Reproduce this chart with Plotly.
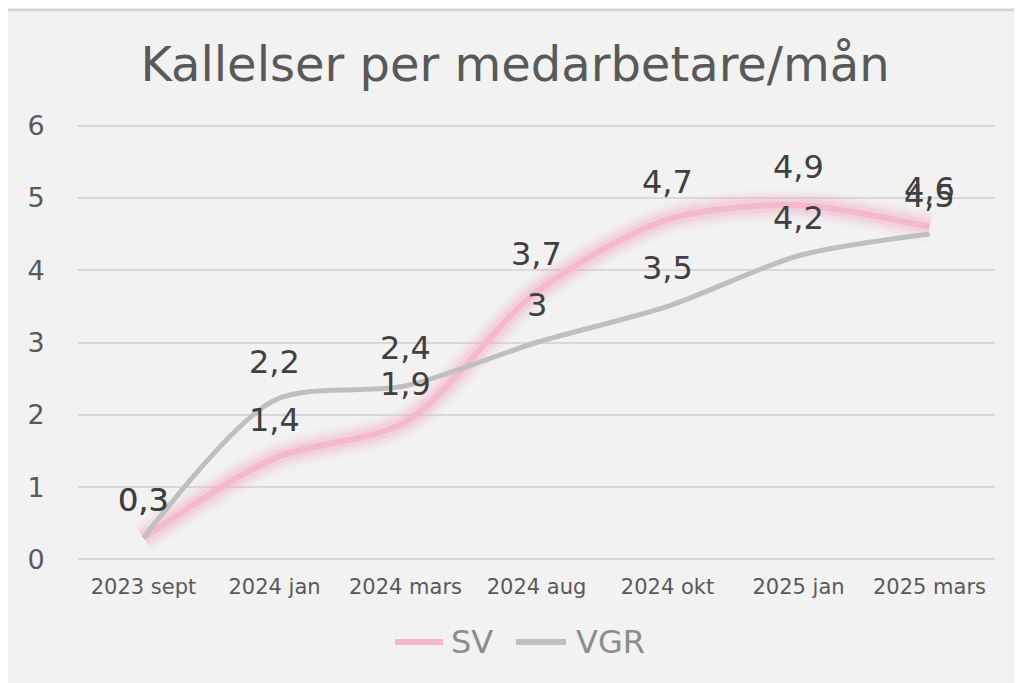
import plotly.graph_objects as go

categories = ["2023 sept", "2024 jan", "2024 mars", "2024 aug", "2024 okt", "2025 jan", "2025 mars"]
sv = [0.3, 1.4, 1.9, 3.7, 4.7, 4.9, 4.6]
vgr = [0.3, 2.2, 2.4, 3.0, 3.5, 4.2, 4.5]
y_ticks = [0, 1, 2, 3, 4, 5, 6]

FONT = "DejaVu Sans"
W, H = 1022, 683
OFF = 8  # page body offset
L, R, T, B = 70, 35, 114, 128
pw, ph = W - L - R, H - T - B

def sx2p(sx):
    return (sx - OFF - L) / pw

def sy2p(sy):
    return (H - B - (sy - OFF)) / ph

def fmt(v):
    return ("%g" % v).replace(".", ",")

x = list(range(len(categories)))
fig = go.Figure()

# Glow for SV
for w, a in [(32, 0.06), (26, 0.09), (20, 0.13), (14, 0.2)]:
    fig.add_trace(go.Scatter(x=x, y=sv, mode="lines",
                             line=dict(color=f"rgba(244,165,192,{a})", width=w, shape="spline", smoothing=0.8),
                             showlegend=False, hoverinfo="skip"))
fig.add_trace(go.Scatter(x=x, y=sv, mode="lines", name="SV", showlegend=False,
                         line=dict(color="#F4B9CC", width=6, shape="spline", smoothing=0.8)))
fig.add_trace(go.Scatter(x=x, y=vgr, mode="lines", name="VGR", showlegend=False,
                         line=dict(color="#BFBFBF", width=5, shape="spline", smoothing=0.8)))

for series in (sv, vgr):
    for i, v in enumerate(series):
        fig.add_annotation(x=i, y=v, text=fmt(v), showarrow=False, yshift=38,
                           font=dict(family=FONT, size=32, color="#404040"))

# top shadow line
fig.add_shape(type="line", xref="paper", yref="paper", layer="below",
              x0=sx2p(0), x1=sx2p(W + 20), y0=sy2p(OFF + 2), y1=sy2p(OFF + 2),
              line=dict(color="#D6D6D6", width=2.5))

# legend (drawn manually to match long legend keys)
legend_items = [("SV", "#F4B9CC", 395, 443, 449), ("VGR", "#BFBFBF", 516, 566, 574)]
for name, col, lx0, lx1, tx in legend_items:
    fig.add_shape(type="line", xref="paper", yref="paper",
                  x0=sx2p(lx0), x1=sx2p(lx1), y0=sy2p(642), y1=sy2p(642),
                  line=dict(color=col, width=6))
    fig.add_annotation(xref="paper", yref="paper", x=sx2p(tx), y=sy2p(642), text=name,
                       xanchor="left", yanchor="middle", showarrow=False,
                       font=dict(family=FONT, size=32, color="#8C8C8C"))

fig.update_layout(
    width=W, height=H,
    margin=dict(l=L, r=R, t=T, b=B),
    paper_bgcolor="#F2F2F2", plot_bgcolor="#F2F2F2",
    showlegend=False,
    title=dict(text="Kallelser per medarbetare/mån", x=sx2p(515), xref="paper", xanchor="center",
               y=1 - 56 / H, yanchor="middle", font=dict(family=FONT, size=48, color="#595959")),
    xaxis=dict(range=[-0.5, len(categories) - 0.5], tickmode="array", tickvals=x, ticktext=categories,
               showgrid=False, zeroline=False, showline=False, ticks="outside", ticklen=5,
               tickcolor="rgba(0,0,0,0)",
               tickfont=dict(family=FONT, size=21, color="#595959")),
    yaxis=dict(range=[-0.05, 6.05], tickmode="array", tickvals=y_ticks, ticktext=[str(t) for t in y_ticks],
               showgrid=True, gridcolor="#D9D9D9", gridwidth=1.5, zeroline=False, showline=False,
               ticks="outside", ticklen=27, tickcolor="rgba(0,0,0,0)",
               tickfont=dict(family=FONT, size=27, color="#595959")),
)

fig.write_html("out.html")
